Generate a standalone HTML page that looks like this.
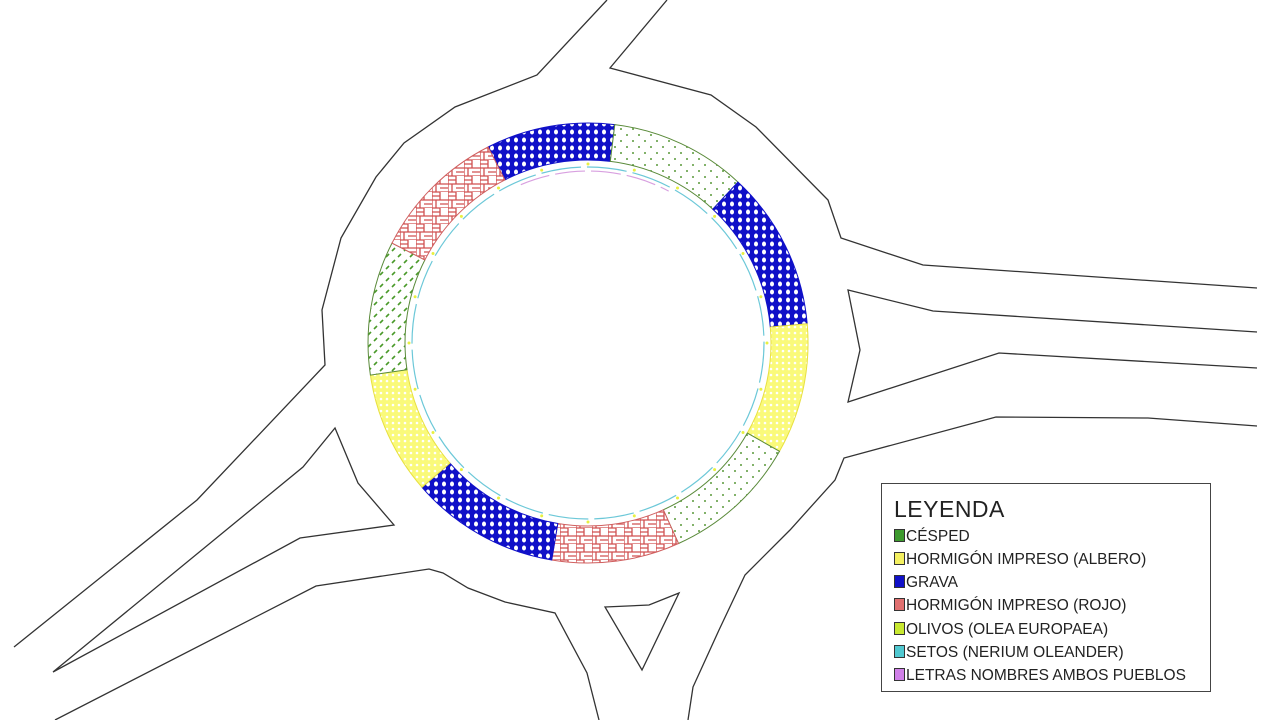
<!DOCTYPE html>
<html><head><meta charset="utf-8"><style>
html,body{margin:0;padding:0;background:#fff;width:1280px;height:720px;overflow:hidden}
svg{position:absolute;left:0;top:0}
.leg{position:absolute;left:881px;top:483px;width:328px;height:207px;border:1.5px solid #444;background:#fff;font-family:"Liberation Sans",sans-serif;color:#222}
.leg h1{margin:0;position:absolute;left:12px;top:12px;font-size:23px;font-weight:normal;letter-spacing:0.5px}
.it{position:absolute;left:12px;font-size:15.5px;height:18px;line-height:18px;white-space:nowrap}
.it i{display:inline-block;width:9px;height:11px;border:1px solid #333;vertical-align:-1px;margin-right:1px}
</style></head><body>
<svg id="s" width="1280" height="720" viewBox="0 0 1280 720">
<defs>
<pattern id="pb" width="8" height="8" patternUnits="userSpaceOnUse"><rect width="8" height="8" fill="#1010c8"/><ellipse cx="4" cy="4" rx="2" ry="2.5" fill="#fff"/></pattern>
<pattern id="pg" width="12" height="12" patternUnits="userSpaceOnUse"><rect width="12" height="12" fill="#fff"/><circle cx="3" cy="3" r="1" fill="#5a9a3a"/><circle cx="9" cy="9" r="1" fill="#5a9a3a"/></pattern>
<pattern id="pgd" width="12" height="12" patternUnits="userSpaceOnUse"><rect width="12" height="12" fill="#fff"/><line x1="2" y1="5" x2="5" y2="2" stroke="#4a9a2a" stroke-width="1.6"/><line x1="8" y1="11" x2="11" y2="8" stroke="#4a9a2a" stroke-width="1.6"/></pattern>
<pattern id="py" width="6" height="6" patternUnits="userSpaceOnUse"><rect width="6" height="6" fill="#fafa7a"/><circle cx="3" cy="3" r="1.3" fill="#fff"/></pattern>
<pattern id="pr" width="16" height="16" patternUnits="userSpaceOnUse"><rect width="16" height="16" fill="#fff"/><path d="M0 0H8M0 4H8M0 8H16M8 0V8M8 12H16M0 0V16M4 8V16M0 16H16" stroke="#d05050" stroke-width="1.3" fill="none"/></pattern>
</defs>
<g fill="none" stroke="#333" stroke-width="1.3">
<polyline points="607,0 537,75 455,107 404,143 376,177 341,238 322,310 325,365 197,500 14,647"/>
<polygon points="53,672 303,467 335,428 358,483 394,525 300,538"/>
<polyline points="55,720 316,586 429,569 443,573 468,588 505,602 555,613 587,673 599,720"/>
<polygon points="605,607 649,605 679,593 642,670"/>
<polyline points="1257,426 1148,418 996,417 844,458 835,480 790,530 745,575 719,630 693,687 688,720"/>
<polyline points="1257,332 933,311 848,290 860,350 848,402 999,353 1257,368"/>
<polyline points="667,0 610,68 711,95 756,127 828,200 841,238 923,265 1257,288"/>
</g>
<g id="ring"></g>
</svg>
<div class="leg"><h1>LEYENDA</h1>
<div class="it" style="top:44px"><i style="background:#3d9a2e"></i>CÉSPED</div>
<div class="it" style="top:67px"><i style="background:#f4f060"></i>HORMIGÓN IMPRESO (ALBERO)</div>
<div class="it" style="top:90px"><i style="background:#1010c8"></i>GRAVA</div>
<div class="it" style="top:113px"><i style="background:#e07070"></i>HORMIGÓN IMPRESO (ROJO)</div>
<div class="it" style="top:137px"><i style="background:#c8e830"></i>OLIVOS (OLEA EUROPAEA)</div>
<div class="it" style="top:160px"><i style="background:#50c8d0"></i>SETOS (NERIUM OLEANDER)</div>
<div class="it" style="top:183px"><i style="background:#d080e8"></i>LETRAS NOMBRES AMBOS PUEBLOS</div>
</div>
<script>
var cx=588,cy=343,R=220,r=183,g=document.getElementById('ring'),ns='http://www.w3.org/2000/svg';
function P(a,rr){a=a*Math.PI/180;return (cx+rr*Math.cos(a)).toFixed(1)+' '+(cy+rr*Math.sin(a)).toFixed(1);}
var segs=[[-117,-83,'pb','#1010c8'],[-83,-47,'pg','#5a8a3a'],[-47,-5,'pb','#1010c8'],[-5,29.5,'py','#e8e040'],[29.5,65.7,'pg','#5a8a3a'],[65.7,99.5,'pr','#d06060'],[99.5,139,'pb','#1010c8'],[139,171.6,'py','#e8e040'],[171.6,207,'pgd','#5a8a3a'],[207,243,'pr','#d06060']];
segs.forEach(function(s){var p=document.createElementNS(ns,'path');
p.setAttribute('d','M'+P(s[0],R)+' A'+R+' '+R+' 0 0 1 '+P(s[1],R)+' L'+P(s[1],r)+' A'+r+' '+r+' 0 0 0 '+P(s[0],r)+' Z');
p.setAttribute('fill','url(#'+s[2]+')');p.setAttribute('stroke',s[3]);p.setAttribute('stroke-width','1');g.appendChild(p);});
var c=document.createElementNS(ns,'circle');c.setAttribute('cx',cx);c.setAttribute('cy',cy);c.setAttribute('r',176);
c.setAttribute('fill','none');c.setAttribute('stroke','#6cc8d8');c.setAttribute('stroke-width','1.2');c.setAttribute('stroke-dasharray','40 6');g.appendChild(c);
var m=document.createElementNS(ns,'path');m.setAttribute('d','M'+P(-113,172)+' A172 172 0 0 1 '+P(-62,172));
m.setAttribute('fill','none');m.setAttribute('stroke','#d8a0e0');m.setAttribute('stroke-width','1.2');m.setAttribute('stroke-dasharray','30 6');g.appendChild(m);
for(var a=0;a<360;a+=15){var d=document.createElementNS(ns,'circle');var q=P(a,179).split(' ');d.setAttribute('cx',q[0]);d.setAttribute('cy',q[1]);d.setAttribute('r',1.5);d.setAttribute('fill','#e8f040');g.appendChild(d);}
</script>
</body></html>
